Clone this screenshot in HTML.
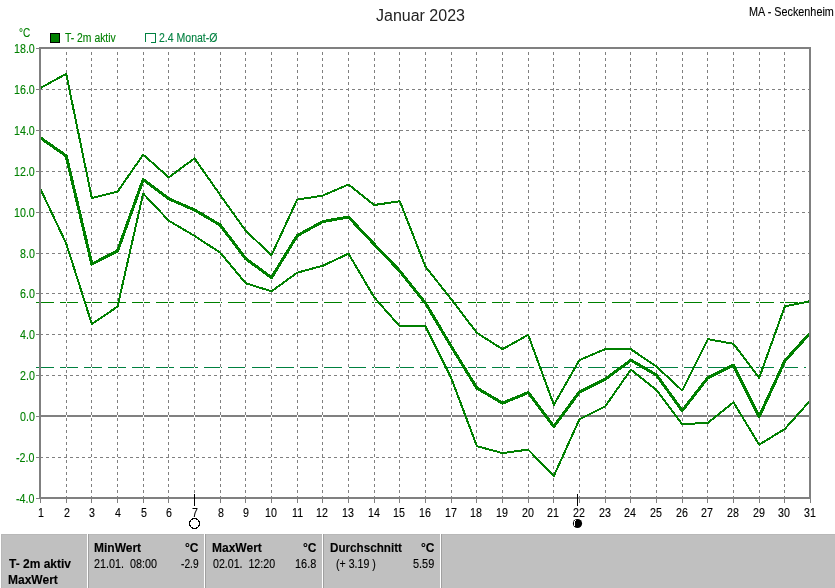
<!DOCTYPE html>
<html><head><meta charset="utf-8"><title>Januar 2023</title>
<style>
html,body{margin:0;padding:0;background:#fff;}
body{width:835px;height:588px;position:relative;overflow:hidden;font-family:"Liberation Sans",sans-serif;}
.t{position:absolute;white-space:nowrap;line-height:normal;transform-origin:0 0;-webkit-text-stroke:0.12px currentColor;}
.panel{position:absolute;left:1px;top:534px;width:834px;height:54px;background:#c0c0c0;border-top:1px solid #b8b8b8;border-left:1px solid #b8b8b8;box-sizing:border-box;}
.sw{position:absolute;top:534px;width:1px;height:54px;background:#fff;}
.sd{position:absolute;top:534px;width:1px;height:54px;background:#a0a0a0;}
</style></head><body>
<div class="panel"></div>
<div class="sw" style="left:87px"></div><div class="sd" style="left:88px"></div>
<div class="sw" style="left:204px"></div><div class="sd" style="left:205px"></div>
<div class="sw" style="left:322px"></div><div class="sd" style="left:323px"></div>
<div class="sw" style="left:440px"></div><div class="sd" style="left:441px"></div>
<svg width="835" height="588" viewBox="0 0 835 588" style="position:absolute;left:0;top:0" shape-rendering="crispEdges">
<line x1="36" x2="806" y1="302.5" y2="302.5" stroke="#008000" stroke-width="1" stroke-dasharray="18 6"/>
<line x1="36" x2="806" y1="367.5" y2="367.5" stroke="#008040" stroke-width="1" stroke-dasharray="18 6"/>
<rect x="41" y="415" width="768" height="2" fill="#808080"/>
<line x1="66.5" x2="66.5" y1="52" y2="497" stroke="#fff" stroke-width="1"/>
<line x1="66.5" x2="66.5" y1="52" y2="497" stroke="#808080" stroke-width="1" stroke-dasharray="3 3"/>
<line x1="91.5" x2="91.5" y1="52" y2="497" stroke="#fff" stroke-width="1"/>
<line x1="91.5" x2="91.5" y1="52" y2="497" stroke="#808080" stroke-width="1" stroke-dasharray="3 3"/>
<line x1="117.5" x2="117.5" y1="52" y2="497" stroke="#fff" stroke-width="1"/>
<line x1="117.5" x2="117.5" y1="52" y2="497" stroke="#808080" stroke-width="1" stroke-dasharray="3 3"/>
<line x1="143.5" x2="143.5" y1="52" y2="497" stroke="#fff" stroke-width="1"/>
<line x1="143.5" x2="143.5" y1="52" y2="497" stroke="#808080" stroke-width="1" stroke-dasharray="3 3"/>
<line x1="168.5" x2="168.5" y1="52" y2="497" stroke="#fff" stroke-width="1"/>
<line x1="168.5" x2="168.5" y1="52" y2="497" stroke="#808080" stroke-width="1" stroke-dasharray="3 3"/>
<line x1="194.5" x2="194.5" y1="52" y2="497" stroke="#fff" stroke-width="1"/>
<line x1="194.5" x2="194.5" y1="52" y2="497" stroke="#808080" stroke-width="1" stroke-dasharray="3 3"/>
<line x1="220.5" x2="220.5" y1="52" y2="497" stroke="#fff" stroke-width="1"/>
<line x1="220.5" x2="220.5" y1="52" y2="497" stroke="#808080" stroke-width="1" stroke-dasharray="3 3"/>
<line x1="245.5" x2="245.5" y1="52" y2="497" stroke="#fff" stroke-width="1"/>
<line x1="245.5" x2="245.5" y1="52" y2="497" stroke="#808080" stroke-width="1" stroke-dasharray="3 3"/>
<line x1="271.5" x2="271.5" y1="52" y2="497" stroke="#fff" stroke-width="1"/>
<line x1="271.5" x2="271.5" y1="52" y2="497" stroke="#808080" stroke-width="1" stroke-dasharray="3 3"/>
<line x1="297.5" x2="297.5" y1="52" y2="497" stroke="#fff" stroke-width="1"/>
<line x1="297.5" x2="297.5" y1="52" y2="497" stroke="#808080" stroke-width="1" stroke-dasharray="3 3"/>
<line x1="322.5" x2="322.5" y1="52" y2="497" stroke="#fff" stroke-width="1"/>
<line x1="322.5" x2="322.5" y1="52" y2="497" stroke="#808080" stroke-width="1" stroke-dasharray="3 3"/>
<line x1="348.5" x2="348.5" y1="52" y2="497" stroke="#fff" stroke-width="1"/>
<line x1="348.5" x2="348.5" y1="52" y2="497" stroke="#808080" stroke-width="1" stroke-dasharray="3 3"/>
<line x1="374.5" x2="374.5" y1="52" y2="497" stroke="#fff" stroke-width="1"/>
<line x1="374.5" x2="374.5" y1="52" y2="497" stroke="#808080" stroke-width="1" stroke-dasharray="3 3"/>
<line x1="399.5" x2="399.5" y1="52" y2="497" stroke="#fff" stroke-width="1"/>
<line x1="399.5" x2="399.5" y1="52" y2="497" stroke="#808080" stroke-width="1" stroke-dasharray="3 3"/>
<line x1="425.5" x2="425.5" y1="52" y2="497" stroke="#fff" stroke-width="1"/>
<line x1="425.5" x2="425.5" y1="52" y2="497" stroke="#808080" stroke-width="1" stroke-dasharray="3 3"/>
<line x1="451.5" x2="451.5" y1="52" y2="497" stroke="#fff" stroke-width="1"/>
<line x1="451.5" x2="451.5" y1="52" y2="497" stroke="#808080" stroke-width="1" stroke-dasharray="3 3"/>
<line x1="476.5" x2="476.5" y1="52" y2="497" stroke="#fff" stroke-width="1"/>
<line x1="476.5" x2="476.5" y1="52" y2="497" stroke="#808080" stroke-width="1" stroke-dasharray="3 3"/>
<line x1="502.5" x2="502.5" y1="52" y2="497" stroke="#fff" stroke-width="1"/>
<line x1="502.5" x2="502.5" y1="52" y2="497" stroke="#808080" stroke-width="1" stroke-dasharray="3 3"/>
<line x1="528.5" x2="528.5" y1="52" y2="497" stroke="#fff" stroke-width="1"/>
<line x1="528.5" x2="528.5" y1="52" y2="497" stroke="#808080" stroke-width="1" stroke-dasharray="3 3"/>
<line x1="553.5" x2="553.5" y1="52" y2="497" stroke="#fff" stroke-width="1"/>
<line x1="553.5" x2="553.5" y1="52" y2="497" stroke="#808080" stroke-width="1" stroke-dasharray="3 3"/>
<line x1="579.5" x2="579.5" y1="52" y2="497" stroke="#fff" stroke-width="1"/>
<line x1="579.5" x2="579.5" y1="52" y2="497" stroke="#808080" stroke-width="1" stroke-dasharray="3 3"/>
<line x1="605.5" x2="605.5" y1="52" y2="497" stroke="#fff" stroke-width="1"/>
<line x1="605.5" x2="605.5" y1="52" y2="497" stroke="#808080" stroke-width="1" stroke-dasharray="3 3"/>
<line x1="630.5" x2="630.5" y1="52" y2="497" stroke="#fff" stroke-width="1"/>
<line x1="630.5" x2="630.5" y1="52" y2="497" stroke="#808080" stroke-width="1" stroke-dasharray="3 3"/>
<line x1="656.5" x2="656.5" y1="52" y2="497" stroke="#fff" stroke-width="1"/>
<line x1="656.5" x2="656.5" y1="52" y2="497" stroke="#808080" stroke-width="1" stroke-dasharray="3 3"/>
<line x1="682.5" x2="682.5" y1="52" y2="497" stroke="#fff" stroke-width="1"/>
<line x1="682.5" x2="682.5" y1="52" y2="497" stroke="#808080" stroke-width="1" stroke-dasharray="3 3"/>
<line x1="707.5" x2="707.5" y1="52" y2="497" stroke="#fff" stroke-width="1"/>
<line x1="707.5" x2="707.5" y1="52" y2="497" stroke="#808080" stroke-width="1" stroke-dasharray="3 3"/>
<line x1="733.5" x2="733.5" y1="52" y2="497" stroke="#fff" stroke-width="1"/>
<line x1="733.5" x2="733.5" y1="52" y2="497" stroke="#808080" stroke-width="1" stroke-dasharray="3 3"/>
<line x1="759.5" x2="759.5" y1="52" y2="497" stroke="#fff" stroke-width="1"/>
<line x1="759.5" x2="759.5" y1="52" y2="497" stroke="#808080" stroke-width="1" stroke-dasharray="3 3"/>
<line x1="784.5" x2="784.5" y1="52" y2="497" stroke="#fff" stroke-width="1"/>
<line x1="784.5" x2="784.5" y1="52" y2="497" stroke="#808080" stroke-width="1" stroke-dasharray="3 3"/>
<line x1="40" x2="809" y1="457.5" y2="457.5" stroke="#808080" stroke-width="1" stroke-dasharray="3 3"/>
<line x1="40" x2="809" y1="375.5" y2="375.5" stroke="#808080" stroke-width="1" stroke-dasharray="3 3"/>
<line x1="40" x2="809" y1="334.5" y2="334.5" stroke="#808080" stroke-width="1" stroke-dasharray="3 3"/>
<line x1="40" x2="809" y1="293.5" y2="293.5" stroke="#808080" stroke-width="1" stroke-dasharray="3 3"/>
<line x1="40" x2="809" y1="253.5" y2="253.5" stroke="#808080" stroke-width="1" stroke-dasharray="3 3"/>
<line x1="40" x2="809" y1="212.5" y2="212.5" stroke="#808080" stroke-width="1" stroke-dasharray="3 3"/>
<line x1="40" x2="809" y1="171.5" y2="171.5" stroke="#808080" stroke-width="1" stroke-dasharray="3 3"/>
<line x1="40" x2="809" y1="130.5" y2="130.5" stroke="#808080" stroke-width="1" stroke-dasharray="3 3"/>
<line x1="40" x2="809" y1="89.5" y2="89.5" stroke="#808080" stroke-width="1" stroke-dasharray="3 3"/>
<rect x="36" y="498" width="3" height="1" fill="#808080"/>
<rect x="36" y="457" width="3" height="1" fill="#808080"/>
<rect x="36" y="416" width="3" height="1" fill="#808080"/>
<rect x="36" y="375" width="3" height="1" fill="#808080"/>
<rect x="36" y="334" width="3" height="1" fill="#808080"/>
<rect x="36" y="293" width="3" height="1" fill="#808080"/>
<rect x="36" y="253" width="3" height="1" fill="#808080"/>
<rect x="36" y="212" width="3" height="1" fill="#808080"/>
<rect x="36" y="171" width="3" height="1" fill="#808080"/>
<rect x="36" y="130" width="3" height="1" fill="#808080"/>
<rect x="36" y="89" width="3" height="1" fill="#808080"/>
<rect x="36" y="48" width="3" height="1" fill="#808080"/>
<rect x="40" y="499" width="1" height="4" fill="#808080"/>
<rect x="66" y="499" width="1" height="4" fill="#808080"/>
<rect x="91" y="499" width="1" height="4" fill="#808080"/>
<rect x="117" y="499" width="1" height="4" fill="#808080"/>
<rect x="143" y="499" width="1" height="4" fill="#808080"/>
<rect x="168" y="499" width="1" height="4" fill="#808080"/>
<rect x="194" y="499" width="1" height="4" fill="#808080"/>
<rect x="220" y="499" width="1" height="4" fill="#808080"/>
<rect x="245" y="499" width="1" height="4" fill="#808080"/>
<rect x="271" y="499" width="1" height="4" fill="#808080"/>
<rect x="297" y="499" width="1" height="4" fill="#808080"/>
<rect x="322" y="499" width="1" height="4" fill="#808080"/>
<rect x="348" y="499" width="1" height="4" fill="#808080"/>
<rect x="374" y="499" width="1" height="4" fill="#808080"/>
<rect x="399" y="499" width="1" height="4" fill="#808080"/>
<rect x="425" y="499" width="1" height="4" fill="#808080"/>
<rect x="451" y="499" width="1" height="4" fill="#808080"/>
<rect x="476" y="499" width="1" height="4" fill="#808080"/>
<rect x="502" y="499" width="1" height="4" fill="#808080"/>
<rect x="528" y="499" width="1" height="4" fill="#808080"/>
<rect x="553" y="499" width="1" height="4" fill="#808080"/>
<rect x="579" y="499" width="1" height="4" fill="#808080"/>
<rect x="605" y="499" width="1" height="4" fill="#808080"/>
<rect x="630" y="499" width="1" height="4" fill="#808080"/>
<rect x="656" y="499" width="1" height="4" fill="#808080"/>
<rect x="682" y="499" width="1" height="4" fill="#808080"/>
<rect x="707" y="499" width="1" height="4" fill="#808080"/>
<rect x="733" y="499" width="1" height="4" fill="#808080"/>
<rect x="759" y="499" width="1" height="4" fill="#808080"/>
<rect x="784" y="499" width="1" height="4" fill="#808080"/>
<rect x="810" y="499" width="1" height="4" fill="#808080"/>
<polyline points="40.50,87.98 66.17,73.86 91.83,198.02 117.50,191.68 143.17,154.66 168.83,177.36 194.50,158.34 220.17,194.95 245.83,230.95 271.50,255.09 297.17,199.66 322.83,195.57 348.50,184.52 374.17,204.98 399.83,201.30 425.50,266.75 451.17,299.07 476.83,332.82 502.50,349.18 528.17,334.86 553.83,404.82 579.50,360.02 605.17,349.18 630.83,349.18 656.50,366.57 682.17,390.50 707.83,339.16 733.50,343.86 759.17,377.82 784.83,306.43 810.50,301.11" fill="none" stroke="#008000" stroke-width="2" stroke-linejoin="round"/>
<polyline points="40.50,189.23 66.17,243.43 91.83,324.02 117.50,306.64 143.17,193.52 168.83,220.73 194.50,235.86 220.17,252.64 245.83,283.32 271.50,291.30 297.17,272.68 322.83,265.73 348.50,253.66 374.17,297.23 399.83,326.48 425.50,326.48 451.17,377.82 476.83,446.14 502.50,453.09 528.17,449.61 553.83,476.00 579.50,419.14 605.17,406.45 630.83,369.64 656.50,390.09 682.17,424.25 707.83,422.82 733.50,402.36 759.17,444.70 784.83,428.95 810.50,400.32" fill="none" stroke="#008000" stroke-width="2" stroke-linejoin="round"/>
<polyline points="40.50,137.89 66.17,155.89 91.83,264.09 117.50,251.00 143.17,179.61 168.83,198.84 194.50,209.89 220.17,225.02 245.83,258.77 271.50,277.59 297.17,235.66 322.83,221.55 348.50,217.05 374.17,244.25 399.83,271.05 425.50,303.16 451.17,346.32 476.83,388.05 502.50,403.18 528.17,392.55 553.83,426.50 579.50,391.93 605.17,379.25 630.83,360.23 656.50,374.95 682.17,410.75 707.83,377.82 733.50,365.14 759.17,416.68 784.83,360.84 810.50,332.61" fill="none" stroke="#008000" stroke-width="3" stroke-linejoin="round"/>
<rect x="39" y="47" width="2" height="452" fill="#808080"/>
<rect x="809" y="47" width="2" height="452" fill="#808080"/>
<rect x="39" y="47" width="772" height="2" fill="#808080"/>
<rect x="39" y="497" width="772" height="2" fill="#808080"/>
<rect x="194" y="494" width="1" height="12" fill="#000"/>
<rect x="577" y="494" width="1" height="12" fill="#000"/>
<circle cx="194.5" cy="523.5" r="5" fill="#fff" stroke="#000" stroke-width="1.2" shape-rendering="crispEdges"/>
<circle cx="577.5" cy="523.5" r="4.6" fill="#000" shape-rendering="auto"/>
<rect x="574" y="521" width="1" height="5" fill="#fff"/><rect x="575" y="520" width="1" height="1" fill="#fff"/>
<rect x="50.5" y="33.5" width="9" height="9" fill="#008000" stroke="#000" stroke-width="1"/>
<path d="M145.5 42 V33.5 H155.5 V42.5 H151" fill="none" stroke="#008040" stroke-width="1"/>
</svg>
<div class="t" style="left:376.00px;top:7px;font-size:16px;color:#222;-webkit-text-stroke:0;transform:scaleX(1.0000);">Januar 2023</div>
<div class="t" style="left:749.10px;top:5px;font-size:12px;color:#000;transform:scaleX(0.9022);">MA - Seckenheim</div>
<div class="t" style="left:19.17px;top:26px;font-size:12px;color:#008000;transform:scaleX(0.8333);">°C</div>
<div class="t" style="left:65.00px;top:31px;font-size:12px;color:#008000;transform:scaleX(0.8644);">T- 2m aktiv</div>
<div class="t" style="left:159.12px;top:31px;font-size:12px;color:#008040;transform:scaleX(0.8769);">2.4 Monat-Ø</div>
<div class="t" style="left:16.20px;top:492px;font-size:12px;color:#008000;transform:scaleX(0.8900);">-4.0</div>
<div class="t" style="left:16.20px;top:451px;font-size:12px;color:#008000;transform:scaleX(0.8900);">-2.0</div>
<div class="t" style="left:19.76px;top:410px;font-size:12px;color:#008000;transform:scaleX(0.8900);">0.0</div>
<div class="t" style="left:19.76px;top:369px;font-size:12px;color:#008000;transform:scaleX(0.8900);">2.0</div>
<div class="t" style="left:19.76px;top:328px;font-size:12px;color:#008000;transform:scaleX(0.8900);">4.0</div>
<div class="t" style="left:19.76px;top:287px;font-size:12px;color:#008000;transform:scaleX(0.8900);">6.0</div>
<div class="t" style="left:19.76px;top:247px;font-size:12px;color:#008000;transform:scaleX(0.8900);">8.0</div>
<div class="t" style="left:13.53px;top:206px;font-size:12px;color:#008000;transform:scaleX(0.8900);">10.0</div>
<div class="t" style="left:13.53px;top:165px;font-size:12px;color:#008000;transform:scaleX(0.8900);">12.0</div>
<div class="t" style="left:13.53px;top:124px;font-size:12px;color:#008000;transform:scaleX(0.8900);">14.0</div>
<div class="t" style="left:13.53px;top:83px;font-size:12px;color:#008000;transform:scaleX(0.8900);">16.0</div>
<div class="t" style="left:13.53px;top:42px;font-size:12px;color:#008000;transform:scaleX(0.8900);">18.0</div>
<div class="t" style="left:37.78px;top:506px;font-size:12px;color:#000;transform:scaleX(0.8900);">1</div>
<div class="t" style="left:63.79px;top:506px;font-size:12px;color:#000;transform:scaleX(0.8900);">2</div>
<div class="t" style="left:88.79px;top:506px;font-size:12px;color:#000;transform:scaleX(0.8900);">3</div>
<div class="t" style="left:115.23px;top:506px;font-size:12px;color:#000;transform:scaleX(0.8900);">4</div>
<div class="t" style="left:140.78px;top:506px;font-size:12px;color:#000;transform:scaleX(0.8900);">5</div>
<div class="t" style="left:165.78px;top:506px;font-size:12px;color:#000;transform:scaleX(0.8900);">6</div>
<div class="t" style="left:192.23px;top:506px;font-size:12px;color:#000;transform:scaleX(0.8900);">7</div>
<div class="t" style="left:218.23px;top:506px;font-size:12px;color:#000;transform:scaleX(0.8900);">8</div>
<div class="t" style="left:242.78px;top:506px;font-size:12px;color:#000;transform:scaleX(0.8900);">9</div>
<div class="t" style="left:265.27px;top:506px;font-size:12px;color:#000;transform:scaleX(0.8900);">10</div>
<div class="t" style="left:291.71px;top:506px;font-size:12px;color:#000;transform:scaleX(0.8900);">11</div>
<div class="t" style="left:316.27px;top:506px;font-size:12px;color:#000;transform:scaleX(0.8900);">12</div>
<div class="t" style="left:342.27px;top:506px;font-size:12px;color:#000;transform:scaleX(0.8900);">13</div>
<div class="t" style="left:368.27px;top:506px;font-size:12px;color:#000;transform:scaleX(0.8900);">14</div>
<div class="t" style="left:393.27px;top:506px;font-size:12px;color:#000;transform:scaleX(0.8900);">15</div>
<div class="t" style="left:419.27px;top:506px;font-size:12px;color:#000;transform:scaleX(0.8900);">16</div>
<div class="t" style="left:445.27px;top:506px;font-size:12px;color:#000;transform:scaleX(0.8900);">17</div>
<div class="t" style="left:470.27px;top:506px;font-size:12px;color:#000;transform:scaleX(0.8900);">18</div>
<div class="t" style="left:496.27px;top:506px;font-size:12px;color:#000;transform:scaleX(0.8900);">19</div>
<div class="t" style="left:522.27px;top:506px;font-size:12px;color:#000;transform:scaleX(0.8900);">20</div>
<div class="t" style="left:547.27px;top:506px;font-size:12px;color:#000;transform:scaleX(0.8900);">21</div>
<div class="t" style="left:573.27px;top:506px;font-size:12px;color:#000;transform:scaleX(0.8900);">22</div>
<div class="t" style="left:599.27px;top:506px;font-size:12px;color:#000;transform:scaleX(0.8900);">23</div>
<div class="t" style="left:624.27px;top:506px;font-size:12px;color:#000;transform:scaleX(0.8900);">24</div>
<div class="t" style="left:650.27px;top:506px;font-size:12px;color:#000;transform:scaleX(0.8900);">25</div>
<div class="t" style="left:676.27px;top:506px;font-size:12px;color:#000;transform:scaleX(0.8900);">26</div>
<div class="t" style="left:701.27px;top:506px;font-size:12px;color:#000;transform:scaleX(0.8900);">27</div>
<div class="t" style="left:727.27px;top:506px;font-size:12px;color:#000;transform:scaleX(0.8900);">28</div>
<div class="t" style="left:753.27px;top:506px;font-size:12px;color:#000;transform:scaleX(0.8900);">29</div>
<div class="t" style="left:778.27px;top:506px;font-size:12px;color:#000;transform:scaleX(0.8900);">30</div>
<div class="t" style="left:804.27px;top:506px;font-size:12px;color:#000;transform:scaleX(0.8900);">31</div>
<div class="t" style="left:9.00px;top:557px;font-size:12px;color:#000;transform:scaleX(1.0000);font-weight:bold;">T- 2m aktiv</div>
<div class="t" style="left:8.00px;top:573px;font-size:12px;color:#000;transform:scaleX(1.0000);font-weight:bold;">MaxWert</div>
<div class="t" style="left:94.00px;top:541px;font-size:12px;color:#000;transform:scaleX(1.0000);font-weight:bold;">MinWert</div>
<div class="t" style="left:185.00px;top:541px;font-size:12px;color:#000;transform:scaleX(1.0000);font-weight:bold;">°C</div>
<div class="t" style="left:94.10px;top:557px;font-size:12px;color:#000;transform:scaleX(0.8986);">21.01.&nbsp; 08:00</div>
<div class="t" style="left:181.00px;top:557px;font-size:12px;color:#000;transform:scaleX(0.8500);">-2.9</div>
<div class="t" style="left:212.00px;top:541px;font-size:12px;color:#000;transform:scaleX(1.0000);font-weight:bold;">MaxWert</div>
<div class="t" style="left:303.00px;top:541px;font-size:12px;color:#000;transform:scaleX(1.0000);font-weight:bold;">°C</div>
<div class="t" style="left:213.00px;top:557px;font-size:12px;color:#000;transform:scaleX(0.8857);">02.01.&nbsp; 12:20</div>
<div class="t" style="left:295.09px;top:557px;font-size:12px;color:#000;transform:scaleX(0.9091);">16.8</div>
<div class="t" style="left:330.03px;top:541px;font-size:12px;color:#000;transform:scaleX(0.9726);font-weight:bold;">Durchschnitt</div>
<div class="t" style="left:421.00px;top:541px;font-size:12px;color:#000;transform:scaleX(1.0000);font-weight:bold;">°C</div>
<div class="t" style="left:336.12px;top:557px;font-size:12px;color:#000;transform:scaleX(0.8837);">(+ 3.19 )</div>
<div class="t" style="left:413.09px;top:557px;font-size:12px;color:#000;transform:scaleX(0.9091);">5.59</div>
</body></html>
